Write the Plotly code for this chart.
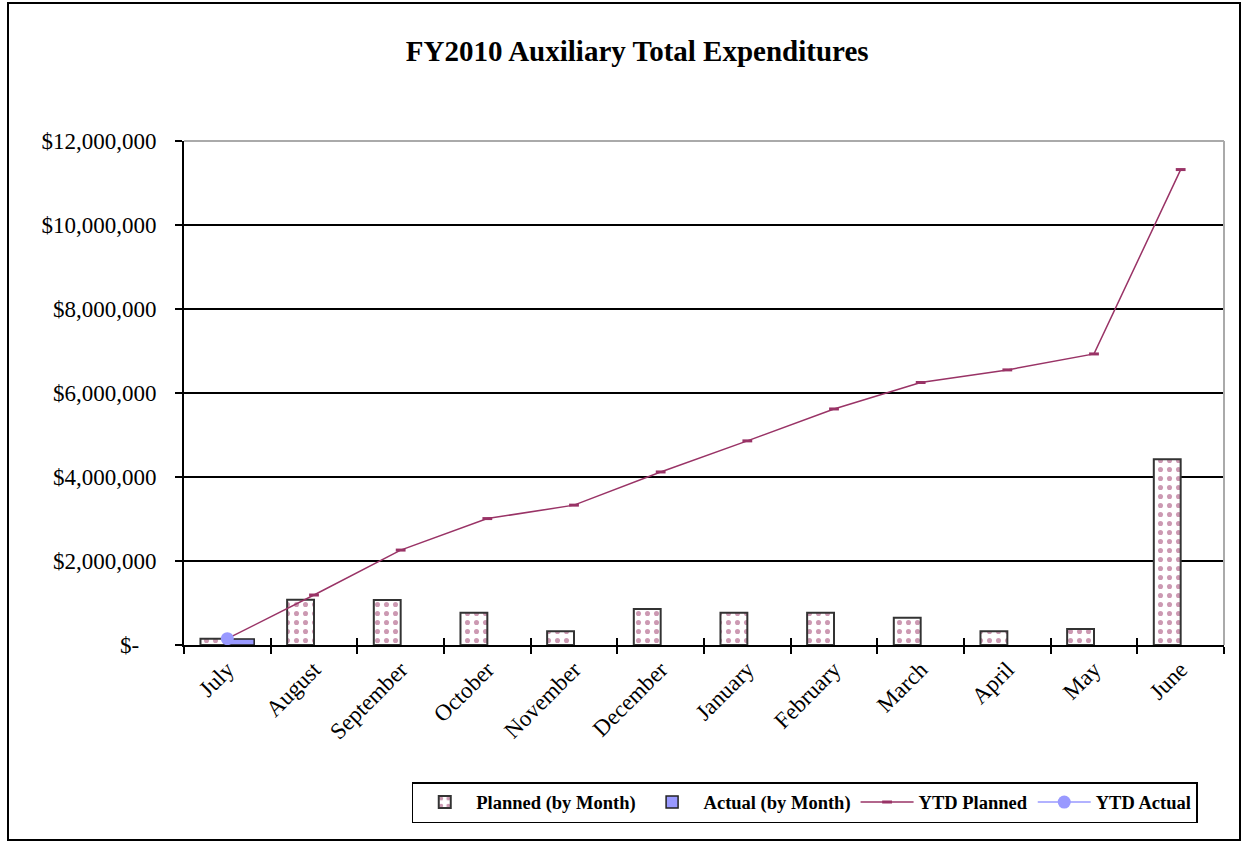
import plotly.graph_objects as go

months = ["July", "August", "September", "October", "November", "December",
          "January", "February", "March", "April", "May", "June"]
planned_month = [150000, 1080000, 1070000, 770000, 330000, 860000,
                 770000, 770000, 650000, 330000, 380000, 4420000]
actual_month = [140000, None, None, None, None, None,
                None, None, None, None, None, None]
ytd_planned = [150000, 1190000, 2260000, 3010000, 3330000, 4120000,
               4860000, 5620000, 6250000, 6550000, 6930000, 11320000]
ytd_actual = [150000, None, None, None, None, None,
              None, None, None, None, None, None]
y_ticks = [0, 2000000, 4000000, 6000000, 8000000, 10000000, 12000000]
y_tick_labels = ["$-\u00a0\u00a0\u00a0", "$2,000,000", "$4,000,000", "$6,000,000",
                 "$8,000,000", "$10,000,000", "$12,000,000"]

SERIF = "Liberation Serif, Times New Roman, serif"
MAROON = "#993366"
LAV = "#9999FF"
n = len(months)

fig = go.Figure()
fig.add_trace(go.Bar(
    x=months, y=planned_month, name="Planned (by Month)",
    marker=dict(color="white", line=dict(color="#333333", width=2),
                pattern=dict(shape=".", fgcolor=MAROON, bgcolor="white",
                             size=9, solidity=0.25)),
))
fig.add_trace(go.Bar(
    x=months, y=actual_month, name="Actual (by Month)",
    marker=dict(color=LAV, line=dict(color="#222222", width=1.5)),
))
fig.add_trace(go.Scatter(
    x=months, y=ytd_planned, name="YTD Planned", mode="lines+markers",
    line=dict(color=MAROON, width=1.5),
    marker=dict(symbol="line-ew", size=7, line=dict(color=MAROON, width=3)),
))
fig.add_trace(go.Scatter(
    x=months, y=ytd_actual, name="YTD Actual", mode="lines+markers",
    line=dict(color=LAV, width=1.5),
    marker=dict(symbol="circle", size=13, color=LAV),
))
# helper trace for the inner half of the crossing ticks
fig.add_trace(go.Scatter(x=[0], y=[None], xaxis="x2", yaxis="y2", showlegend=False,
                         hoverinfo="skip", mode="markers"))

fig.update_layout(
    width=1247, height=843,
    margin=dict(l=184, r=23, t=141, b=198),
    paper_bgcolor="white", plot_bgcolor="white",
    barmode="group", bargap=0.38, bargroupgap=0,
    font=dict(family=SERIF, color="black"),
    title=dict(text="<b>FY2010 Auxiliary Total Expenditures</b>",
               x=0.511, xanchor="center", y=0.94, yanchor="middle",
               font=dict(family=SERIF, size=29, color="black")),
    showlegend=True,
    legend=dict(orientation="h", x=0.219, xanchor="left", y=-0.272, yanchor="top",
                bordercolor="black", borderwidth=1.5, bgcolor="white",
                font=dict(family=SERIF, size=18.5, color="black", weight="bold"),
                traceorder="normal", itemwidth=53),
    xaxis=dict(type="category", range=[-0.5, n - 0.5],
               showline=True, linecolor="black", linewidth=2,
               ticks="outside", tickson="boundaries", ticklen=7, tickwidth=2,
               tickcolor="black", tickangle=-45,
               tickfont=dict(family=SERIF, size=23, color="black"),
               showgrid=False, zeroline=False),
    xaxis2=dict(overlaying="x", anchor="y", side="bottom", range=[-0.5, n - 0.5],
                tickvals=[i - 0.5 for i in range(n + 1)], ticks="inside",
                ticklen=7, tickwidth=2, tickcolor="black",
                showticklabels=False, showgrid=False, zeroline=False,
                showline=False),
    yaxis=dict(range=[0, 12000000], tickvals=y_ticks, ticktext=y_tick_labels,
               showline=True, linecolor="black", linewidth=2,
               ticks="outside", ticklen=7, tickwidth=2, tickcolor="black",
               ticklabelstandoff=14,
               tickfont=dict(family=SERIF, size=23, color="black"),
               showgrid=True, gridcolor="black", gridwidth=1.5,
               zeroline=False),
    yaxis2=dict(overlaying="y", anchor="x", side="left", range=[0, 12000000],
                tickvals=y_ticks, ticks="inside", ticklen=7, tickwidth=2,
                tickcolor="black", showticklabels=False, showgrid=False,
                zeroline=False, showline=False),
    shapes=[
        dict(type="line", xref="paper", yref="paper", x0=0, x1=1, y0=1, y1=1,
             line=dict(color="#aaaaaa", width=2)),
        dict(type="line", xref="paper", yref="paper", x0=1, x1=1, y0=0, y1=1,
             line=dict(color="#aaaaaa", width=2)),
        dict(type="rect", xref="paper", yref="paper",
             x0=(8 - 184) / 1040, x1=(1240 - 184) / 1040,
             y0=(645 - 840) / 504, y1=(645 - 3) / 504,
             line=dict(color="black", width=2), layer="below"),
    ],
)

fig.write_html("out.html")
